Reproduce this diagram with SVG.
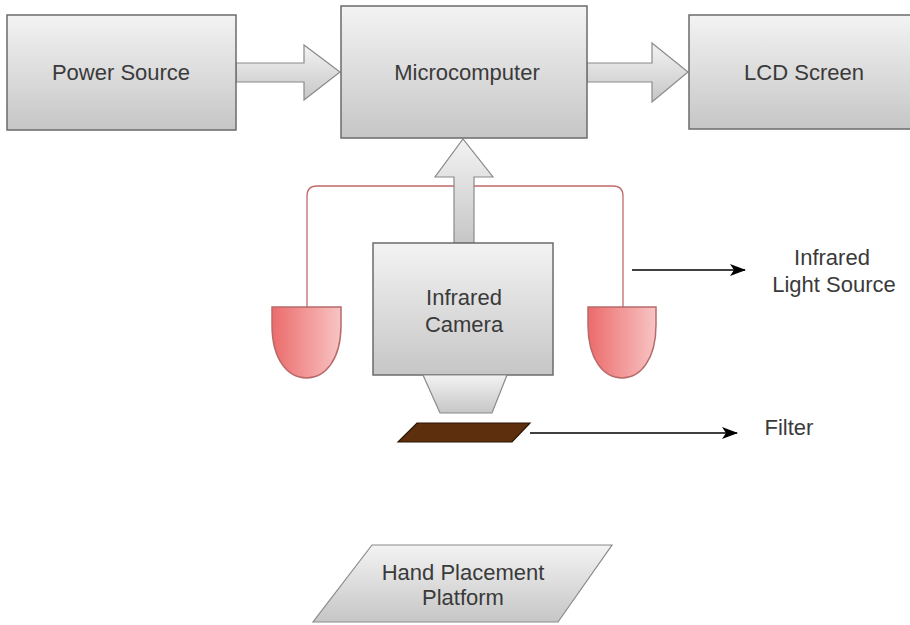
<svg xmlns="http://www.w3.org/2000/svg" width="910" height="625" viewBox="0 0 910 625">
  <defs>
    <linearGradient id="gray" x1="0" y1="0" x2="0" y2="1">
      <stop offset="0" stop-color="#f3f3f3"/>
      <stop offset="1" stop-color="#c6c6c6"/>
    </linearGradient>
    <linearGradient id="red" x1="0" y1="0" x2="1" y2="0">
      <stop offset="0" stop-color="#ec6b6b"/>
      <stop offset="1" stop-color="#f8c4c4"/>
    </linearGradient>
    <marker id="head" viewBox="0 0 16 12" refX="15" refY="6" markerWidth="16" markerHeight="12" markerUnits="userSpaceOnUse" orient="auto">
      <path d="M0,0 L16,6 L0,12 L4,6 Z" fill="#000"/>
    </marker>
    <style>
      .box { fill: url(#gray); stroke: #6b6b6b; stroke-width: 1.5; }
      .fat { fill: url(#gray); stroke: #8a8a8a; stroke-width: 1.2; }
      .bulb { fill: url(#red); stroke: #b86a6a; stroke-width: 1.5; }
      .wire { fill: none; stroke: #c06a6a; stroke-width: 1.3; }
      .pointer { fill: none; stroke: #000; stroke-width: 1.5; marker-end: url(#head); }
      text { font-family: "Liberation Sans", Arial, sans-serif; font-size: 22px; fill: #3a3a3a; text-anchor: middle; }
    </style>
  </defs>

  <rect width="910" height="625" fill="#fff"/>

  <!-- LED power wiring -->
  <g id="wiring">
    <path class="wire" d="M307,307 V196 Q307,186 317,186 H613 Q623,186 623,196 V307"/>
  </g>

  <!-- block arrows and pointer lines -->
  <g id="connectors">
    <path class="fat" d="M236,63 H304 V45 L340,72 L304,100 V82 H236 Z"/>
    <path class="fat" d="M587,63 H652 V43 L688,72 L652,102 V82 H587 Z"/>
    <path class="fat" d="M454,243 V177 H435 L463,139 L493,177 H474 V243 Z"/>
    <line class="pointer" x1="632" y1="270" x2="745" y2="270"/>
    <line class="pointer" x1="530" y1="433" x2="737" y2="433"/>
  </g>

  <g id="power-source">
    <rect class="box" x="7" y="15" width="229" height="115"/>
    <text x="121" y="80">Power Source</text>
  </g>

  <g id="microcomputer">
    <rect class="box" x="341" y="6" width="246" height="132"/>
    <text x="467" y="80">Microcomputer</text>
  </g>

  <g id="lcd-screen">
    <rect class="box" x="689" y="15" width="230" height="114"/>
    <text x="804" y="80">LCD Screen</text>
  </g>

  <g id="infrared-camera">
    <rect class="box" x="373" y="243" width="180" height="132"/>
    <text x="464" y="305">Infrared</text>
    <text x="464" y="332">Camera</text>
    <path class="fat" d="M423,375 H507 L492,413 H440 Z"/>
  </g>

  <g id="led-left">
    <path class="bulb" d="M272,307 H341 V325 C341,360 325,378 306.5,378 C288,378 272,360 272,325 Z"/>
  </g>

  <g id="led-right">
    <path class="bulb" d="M588,307 H656 V325 C656,360 640,378 622,378 C604,378 588,360 588,325 Z"/>
  </g>

  <g id="infrared-light-source-label">
    <text x="832" y="265">Infrared</text>
    <text x="834" y="292">Light Source</text>
  </g>

  <g id="filter">
    <path d="M417,423 H530 L512,442 H398 Z" fill="#5e2f0c" stroke="#2a1505" stroke-width="1.2"/>
  </g>

  <g id="filter-label">
    <text x="789" y="435">Filter</text>
  </g>

  <g id="hand-placement-platform">
    <path class="fat" d="M372,545 H612 L558,622 H313 Z"/>
    <text x="463" y="580">Hand Placement</text>
    <text x="463" y="605">Platform</text>
  </g>
</svg>
